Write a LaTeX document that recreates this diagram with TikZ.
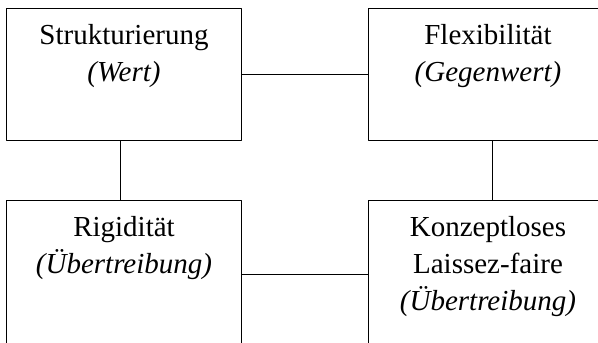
\documentclass[tikz,border=0pt]{standalone}
\usepackage{fontspec}
\setmainfont{Liberation Serif}
\begin{document}
\begin{tikzpicture}[x=1bp,y=-1bp,line width=1bp,line join=round,
	box/.style={draw,minimum width=234bp,minimum height=132bp,inner sep=0pt},
	txt/.style={anchor=north,align=center,inner sep=0pt,font=\fontsize{29bp}{37bp}\selectfont}]
	\useasboundingbox (0,0) rectangle (598,342);
	\clip (0,0) rectangle (598,342);
	% Kaesten
	\node[box] (str) at (124,74) {};
	\node[box,minimum width=240bp] (flex) at (488,74) {};
	\node[box,minimum height=148bp] (rig) at (124,274) {};
	\node[box,minimum width=240bp,minimum height=148bp] (konz) at (488,274) {};
	% Texte
	\node[txt] (strT) at ([yshift=-16bp]str.north) {Strukturierung\\\textit{(Wert)}};
	\node[txt] (flexT) at ([yshift=-16bp]flex.north) {Flexibilität\\\textit{(Gegenwert)}};
	\node[txt] (rigT) at ([yshift=-16bp]rig.north) {Rigidität\\\textit{(Übertreibung)}};
	\node[txt] (konzT) at ([yshift=-16bp]konz.north) {Konzeptloses\\Laissez-faire\\\textit{(Übertreibung)}};
	% Verbindungen
	\draw (str) -- (flex) (rig) -- (konz);
	\draw ([xshift=-4bp]str.south) -- ([xshift=-4bp]rig.north);
	\draw ([xshift=4bp]flex.south) -- ([xshift=4bp]konz.north);
\end{tikzpicture}
\end{document}
